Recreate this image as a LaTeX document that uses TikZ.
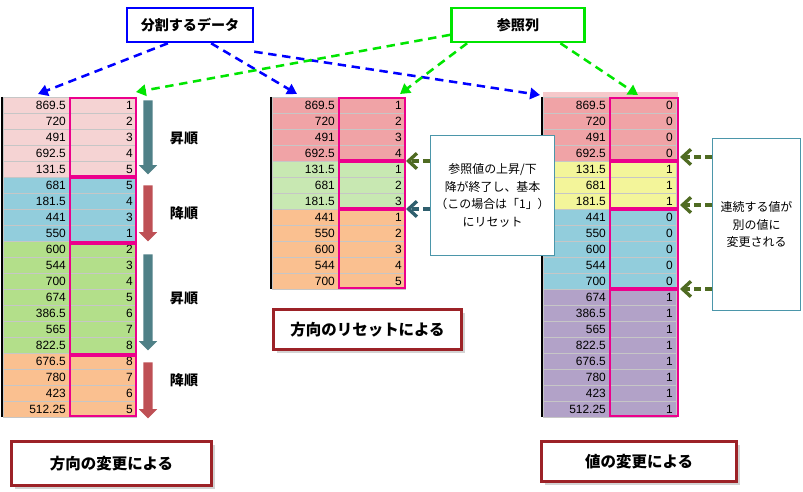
\documentclass[tikz,border=0pt]{standalone}
\usepackage{fontspec}
\setmainfont{Liberation Sans}
\newfontfamily\jp{Noto Sans CJK JP}
\usetikzlibrary{arrows.meta,positioning,shapes.arrows,shadows}

\definecolor{pinkA}{HTML}{F5D3D3}
\definecolor{redA}{HTML}{F0A3A6}
\definecolor{blueA}{HTML}{92CDDC}
\definecolor{greenA}{HTML}{B3DF8A}
\definecolor{greenB}{HTML}{C8E8B2}
\definecolor{orangeA}{HTML}{FAC090}
\definecolor{yellowA}{HTML}{F3F59A}
\definecolor{purpleA}{HTML}{B2A2C8}
\definecolor{tealA}{HTML}{4F8087}
\definecolor{redB}{HTML}{BE5055}
\definecolor{oliveA}{HTML}{4F6B22}
\definecolor{tealB}{HTML}{2F5F6E}
\definecolor{frameA}{HTML}{9C2227}
\definecolor{boxline}{HTML}{4B96AA}

\tikzset{
  cellv/.style={draw=gray!45, minimum width=66*0.7113pt, minimum height=16*0.7113pt, inner sep=1.5pt,
    anchor=north west, align=right, text width=42pt, font=\fontsize{8.5}{9}\selectfont},
  group/.style={draw=magenta, line width=1.3pt},
  title/.style={draw, line width=1.8pt, fill=white, font=\jp\bfseries\fontsize{10}{12}\selectfont,
    minimum height=34*0.7113pt, inner sep=4pt},
  caption/.style={draw=frameA, line width=2.2pt, fill=white, drop shadow={opacity=0.35},
    font=\jp\bfseries\fontsize{11}{13}\selectfont, anchor=north west, inner sep=0pt},
  note/.style={draw=boxline, line width=0.8pt, fill=white, anchor=north west,
    font=\jp\fontsize{8.5}{12.5}\selectfont, align=center, inner sep=2pt},
  pick/.style={blue, line width=1.8pt, dash pattern=on 6pt off 4pt, -{Triangle[length=7pt,width=8pt]}},
  refer/.style={green!90!black, line width=1.8pt, dash pattern=on 6pt off 4pt, -{Triangle[length=7pt,width=8pt]}},
  point/.style={line width=2.4pt, dash pattern=on 5pt off 3pt, -{Straight Barb[length=6pt,width=11pt]}},
  flow/.style={single arrow, single arrow head extend=2.5pt, minimum height=#1*0.7113pt, minimum width=13pt,
    shape border rotate=270, draw=none, inner sep=2.5pt},
  order/.style={font=\jp\bfseries\fontsize{10}{12}\selectfont}
}

% table: x, y, list of value/ref/colour
\newcommand{\datatable}[3]{%
  \foreach \v/\r/\c [count=\i] in {#3} {
    \node[cellv, fill=\c] at (#1, #2+16*\i-16) {\v};
    \node[cellv, fill=\c] at (#1+67, #2+16*\i-16) {\r};
  }%
}

\begin{document}
\begin{tikzpicture}[x=0.025cm, y=-0.025cm]
  \useasboundingbox (0,0) rectangle (803,492);

  % Tables
  \datatable{3}{97}{869.5/1/pinkA, 720/2/pinkA, 491/3/pinkA, 692.5/4/pinkA, 131.5/5/pinkA,
    681/5/blueA, 181.5/4/blueA, 441/3/blueA, 550/1/blueA,
    600/2/greenA, 544/3/greenA, 700/4/greenA, 674/5/greenA, 386.5/6/greenA, 565/7/greenA, 822.5/8/greenA,
    676.5/8/orangeA, 780/7/orangeA, 423/6/orangeA, 512.25/5/orangeA}
  \datatable{272}{97}{869.5/1/redA, 720/2/redA, 491/3/redA, 692.5/4/redA,
    131.5/1/greenB, 681/2/greenB, 181.5/3/greenB,
    441/1/orangeA, 550/2/orangeA, 600/3/orangeA, 544/4/orangeA, 700/5/orangeA}
  \fill[redA!60] (543,92) rectangle (678,97);
  \datatable{543}{97}{869.5/0/redA, 720/0/redA, 491/0/redA, 692.5/0/redA,
    131.5/1/yellowA, 681/1/yellowA, 181.5/1/yellowA,
    441/0/blueA, 550/0/blueA, 600/0/blueA, 544/0/blueA, 700/0/blueA,
    674/1/purpleA, 386.5/1/purpleA, 565/1/purpleA, 822.5/1/purpleA, 676.5/1/purpleA, 780/1/purpleA, 423/1/purpleA, 512.25/1/purpleA}
  \draw[line width=1pt] (2,97) -- (2,417);
  \draw[line width=1pt] (271,97) -- (271,289);
  \draw[line width=1pt] (542,97) -- (542,417);

  % Groups
  \foreach \a/\b in {97/177, 177/243, 243/355, 355/417}
    \draw[group] (70,\a+1) rectangle (136,\b-1);
  \foreach \a/\b in {97/161, 161/209, 209/289}
    \draw[group] (339,\a+1) rectangle (405,\b-1);
  \foreach \a/\b in {97/161, 161/209, 209/289, 289/417}
    \draw[group] (610,\a+1) rectangle (678,\b-1);

  % Order arrows
  \node[flow=74, fill=tealA] (up1) at (148,135) {};
  \node[flow=56, fill=redB] (dn1) at (148,211) {};
  \node[flow=96, fill=tealA] (up2) at (148,300) {};
  \node[flow=56, fill=redB] (dn2) at (148,388) {};
  \node[order] at (184,138) {昇順};
  \node[order] at (184,213) {降順};
  \node[order] at (184,298) {昇順};
  \node[order] at (184,380) {降順};

  % Titles
  \node[title, draw=blue, minimum width=126*0.7113pt] (split) at (190,25) {分割するデータ};
  \node[title, draw=green!90!black, minimum width=133*0.7113pt] (refcol) at (518,25) {参照列};
  \coordinate (t1) at (38,94);
  \coordinate (t2) at (297,94);
  \coordinate (t3) at (540,95);
  \coordinate (r1) at (136,92);
  \coordinate (r2) at (400,94);
  \coordinate (r3) at (638,95);
  \draw[pick] ([xshift=30]split.south west) -- (t1);
  \draw[pick] ([xshift=15]split.south) -- (t2);
  \draw[pick] ([yshift=-6]split.south east) -- (t3);
  \draw[refer] ([yshift=6]refcol.south west) -- (r1);
  \draw[refer] ([xshift=12]refcol.south west) -- (r2);
  \draw[refer] ([xshift=-18]refcol.south east) -- (r3);

  % Notes
  \node[note, minimum width=124*0.7113pt, minimum height=120*0.7113pt] (reset) at (430,135)
    {参照値の上昇/下\\降が終了し、基本\\（この場合は「1」）\\にリセット};
  \node[note, minimum width=88*0.7113pt, minimum height=172*0.7113pt] (change) at (712,138)
    {連続する値が\\別の値に\\変更される};
  \draw[point, oliveA] (reset.west |- 0,161) -- (406,161);
  \draw[point, tealB] (reset.west |- 0,209) -- (406,209);
  \foreach \y in {157, 205, 289}
    \draw[point, oliveA] (change.west |- 0,\y) -- (680,\y);

  % Captions
  \node[caption, minimum width=200*0.7113pt, minimum height=44*0.7113pt] (cap1) at (10,440) {方向の変更による};
  \node[caption, minimum width=188*0.7113pt, minimum height=40*0.7113pt] (cap2) at (272,308) {方向のリセットによる};
  \node[caption, minimum width=195*0.7113pt, minimum height=40*0.7113pt] (cap3) at (540,440) {値の変更による};
\end{tikzpicture}
\end{document}
